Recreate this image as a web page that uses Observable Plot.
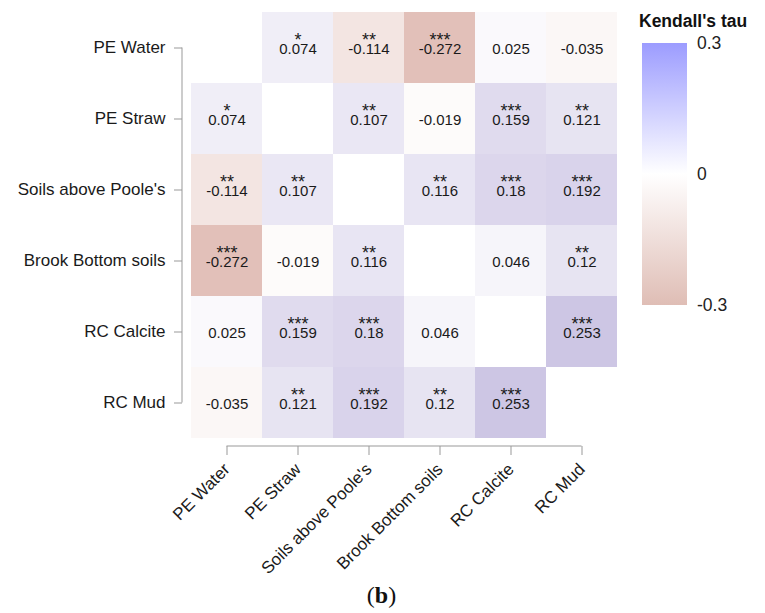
<!DOCTYPE html>
<html><head><meta charset="utf-8">
<script src="https://cdn.jsdelivr.net/npm/d3@7"></script>
<script src="https://cdn.jsdelivr.net/npm/@observablehq/plot@0.6"></script>
<style>
body{margin:0;background:#fff;font-family:"Liberation Sans",Arial,sans-serif;}
#wrap{position:relative;width:765px;height:613px;overflow:hidden;}
#chart svg{display:block;}
.lg-title{position:absolute;left:639px;top:11px;font-size:17.5px;line-height:20px;font-weight:bold;color:#111;white-space:nowrap;}
.lg-bar{position:absolute;left:642px;top:43px;width:45px;height:262px;}
.lg-tick{position:absolute;left:697px;font-size:17.5px;line-height:20px;color:#222;transform:translateY(-50%);}
.caption{position:absolute;left:0;width:763px;top:582px;text-align:center;font-family:"Liberation Serif","DejaVu Serif",serif;font-size:24px;line-height:26px;color:#111;}
</style></head><body>
<div id="wrap"><div id="chart"></div></div>
<script>
const categories = ["PE Water", "PE Straw", "Soils above Poole's", "Brook Bottom soils", "RC Calcite", "RC Mud"];

// Kendall's tau, row by row (null = diagonal)
const tauPEWater    = [null, 0.074, -0.114, -0.272, 0.025, -0.035];
const tauPEStraw    = [0.074, null, 0.107, -0.019, 0.159, 0.121];
const tauSoils      = [-0.114, 0.107, null, 0.116, 0.18, 0.192];
const tauBrook      = [-0.272, -0.019, 0.116, null, 0.046, 0.12];
const tauRCCalcite  = [0.025, 0.159, 0.18, 0.046, null, 0.253];
const tauRCMud      = [-0.035, 0.121, 0.192, 0.12, 0.253, null];

// significance stars, row by row
const sigPEWater   = ["", "*", "**", "***", "", ""];
const sigPEStraw   = ["*", "", "**", "", "***", "**"];
const sigSoils     = ["**", "**", "", "**", "***", "***"];
const sigBrook     = ["***", "", "**", "", "", "**"];
const sigRCCalcite = ["", "***", "***", "", "", "***"];
const sigRCMud     = ["", "**", "***", "**", "***", ""];

const legendTicks = [0.3, 0, -0.3];
const legendTitle = "Kendall's tau";

const tauRows = [tauPEWater, tauPEStraw, tauSoils, tauBrook, tauRCCalcite, tauRCMud];
const sigRows = [sigPEWater, sigPEStraw, sigSoils, sigBrook, sigRCCalcite, sigRCMud];

const cells = [];
categories.forEach((r, i) => categories.forEach((c, j) => {
  if (tauRows[i][j] !== null) cells.push({row: r, col: c, tau: tauRows[i][j], sig: sigRows[i][j]});
}));

const negColor = "rgb(223,186,178)";
const posColor = "rgb(196,187,223)";

const chart = Plot.plot({
  width: 765,
  height: 578,
  marginLeft: 189,
  marginRight: 147,
  marginTop: 11,
  marginBottom: 139,
  x: {domain: categories, padding: 0, label: null},
  y: {domain: categories, padding: 0, label: null},
  color: {type: "linear", domain: [-0.3, 0, 0.3], range: [negColor, "#ffffff", posColor], interpolate: "rgb", clamp: true},
  style: {fontFamily: "'Liberation Sans', Arial, sans-serif", color: "#1a1a1a", background: "#fff"},
  marks: [
    Plot.cell(cells, {x: "col", y: "row", fill: "tau", inset: 0}),
    Plot.text(cells, {x: "col", y: "row", text: d => d.sig ? d.sig + "\n" + d.tau : String(d.tau),
      lineAnchor: "bottom", lineHeight: 0.6, fontSize: 15, dy: 5.6, fill: "#1a1a1a"}),
    Plot.axisY({tickSize: 8, tickPadding: 9, dx: -7, fontSize: 17, stroke: "#999", fill: "#1a1a1a"}),
    Plot.axisX({tickSize: 9, tickPadding: 11, dy: 7, tickRotate: -45, fontSize: 17, stroke: "#999", fill: "#1a1a1a"})
  ]
});

// cell labels: stars line above the value line, stars slightly larger (one text element per cell)
d3.select(chart).selectAll('g[aria-label="text"] text').each(function() {
  const t = d3.select(this);
  t.attr("y", null);
  const spans = t.selectAll("tspan").nodes();
  if (spans.length === 2) {
    d3.select(spans[0]).attr("y", -7.8).attr("dy", null).attr("font-size", 18);
    d3.select(spans[1]).attr("y", null).attr("dy", 7.8);
  }
});

// axis domain lines spanning first to last tick, placed with the plot's scales
const xs = chart.scale("x"), ys = chart.scale("y");
const xc = c => xs.apply(c) + xs.bandwidth / 2;
const yc = c => ys.apply(c) + ys.bandwidth / 2;
const svg = d3.select(chart);
svg.append("line")
  .attr("x1", 189 - 7).attr("x2", 189 - 7)
  .attr("y1", yc(categories[0])).attr("y2", yc(categories[categories.length - 1]))
  .attr("stroke", "#999");
svg.append("line")
  .attr("y1", 439 + 7).attr("y2", 439 + 7)
  .attr("x1", xc(categories[0])).attr("x2", xc(categories[categories.length - 1]))
  .attr("stroke", "#999");

document.getElementById("chart").appendChild(chart);

// legend
const wrap = document.getElementById("wrap");
const title = document.createElement("div");
title.className = "lg-title"; title.textContent = legendTitle;
wrap.appendChild(title);
const bar = document.createElement("div");
bar.className = "lg-bar";
bar.style.background = "linear-gradient(to bottom, #9c9cff 0%, #ffffff 50%, #dfbdb5 100%)";
wrap.appendChild(bar);
const barTop = 43, barH = 262;
legendTicks.forEach(v => {
  const t = document.createElement("div");
  t.className = "lg-tick";
  t.textContent = v === 0 ? "0" : String(v);
  t.style.top = (barTop + (0.3 - v) / 0.6 * barH) + "px";
  wrap.appendChild(t);
});

// caption
const cap = document.createElement("div");
cap.className = "caption";
cap.innerHTML = "(<b>b</b>)";
wrap.appendChild(cap);
</script>
</body></html>
